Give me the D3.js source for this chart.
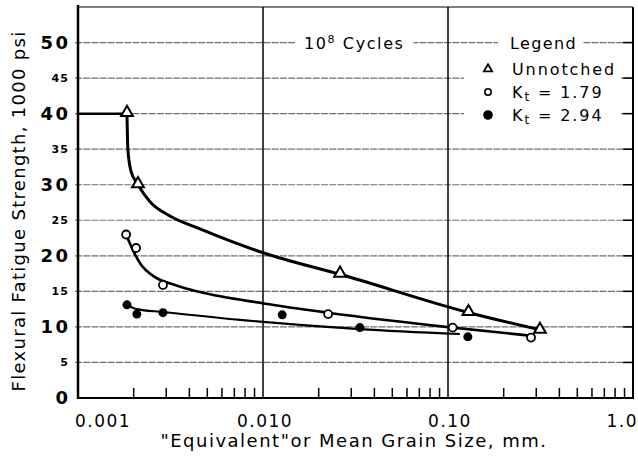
<!DOCTYPE html>
<html>
<head>
<meta charset="utf-8">
<script src="https://cdn.jsdelivr.net/npm/d3@7"></script>
<style>
  body { margin: 0; background: #fff; }
  text { font-family: "DejaVu Sans", sans-serif; fill: #000; }
</style>
</head>
<body>
<div id="chart"></div>
<script>
// grain size (mm) vs flexural fatigue strength (1000 psi)
let unnotched = [[0.00184,40],[0.00211,30],[0.0261,17.4],[0.129,12.0],[0.314,9.5]];
let kt179 = [[0.00182,23.0],[0.00206,21.1],[0.00288,15.9],[0.0225,11.8],[0.106,9.9],[0.281,8.5]];
let kt294 = [[0.00184,13.1],[0.00208,11.8],[0.00288,12.0],[0.0127,11.7],[0.0334,9.9],[0.128,8.6]];

// hand drawn fit curves
let unnotchedCap = [[0.001,40],[0.00184,40]];
let unnotchedFit = [[0.00184,40],[0.00186,35],[0.00193,32],[0.00211,30],[0.00245,27.6],[0.00314,25.6],
  [0.00456,23.8],[0.0101,20.4],[0.0261,17.4],[0.130,12.0],[0.314,9.6]];
let kt179Fit = [[0.00182,23.0],[0.00198,20.8],[0.00216,19.0],[0.00261,17.0],[0.00334,15.9],[0.00456,14.9],
  [0.0101,13.3],[0.0225,12.0],[0.106,9.9],[0.295,8.7]];
let kt294Fit = [[0.00184,13.1],[0.00208,12.5],[0.00288,12.1],[0.00751,11.0],[0.0334,9.7],[0.116,9.0]];

let xTicks = [0.001, 0.01, 0.1, 1];
let xTickLabels = ["0.001", "0.010", "0.10", "1.0"];
let yTicks = [0,5,10,15,20,25,30,35,40,45,50];

let width = 638, height = 459;
let margin = {top: 7, right: 5, bottom: 61, left: 78};

let svg = d3.select("#chart").append("svg")
  .attr("width", width)
  .attr("height", height);

let x = d3.scaleLog().domain([0.001, 1]).range([margin.left, width - margin.right]);
let y = d3.scaleLinear().domain([0, 55]).range([height - margin.bottom, margin.top]);

const x0 = x.range()[0], x1 = x.range()[1];
const y0 = y.range()[0], y1 = y.range()[1];

// horizontal grid
svg.append("g").selectAll("line")
  .data(yTicks.filter(d => d > 0))
  .enter().append("line")
  .attr("x1", x0 - 3).attr("x2", x1)
  .attr("y1", d => y(d)).attr("y2", d => y(d))
  .attr("stroke", "#707070")
  .attr("stroke-width", 1.2)
  .attr("stroke-dasharray", "7,1.2");

// vertical decade lines
svg.append("g").selectAll("line")
  .data(xTicks.slice(1, 3))
  .enter().append("line")
  .attr("x1", d => x(d)).attr("x2", d => x(d))
  .attr("y1", y1).attr("y2", y0)
  .attr("stroke", "#000")
  .attr("stroke-width", 1.5);

// minor ticks on bottom
let minor = [];
[0.001, 0.01, 0.1].forEach(d => { for (let k = 2; k <= 9; k++) minor.push(d * k); });
svg.append("g").selectAll("line")
  .data(minor)
  .enter().append("line")
  .attr("x1", d => x(d)).attr("x2", d => x(d))
  .attr("y1", y0).attr("y2", y0 - 10)
  .attr("stroke", "#000")
  .attr("stroke-width", 1.5);

// right side ticks
svg.append("g").selectAll("line")
  .data(yTicks.filter(d => d > 0))
  .enter().append("line")
  .attr("x1", x1 - 10).attr("x2", x1)
  .attr("y1", d => y(d)).attr("y2", d => y(d))
  .attr("stroke", "#000")
  .attr("stroke-width", 1.5);

// legend background + labels
let legendG = svg.append("g");
legendG.append("rect")
  .attr("x", 464).attr("y", 57)
  .attr("width", 157).attr("height", 72)
  .attr("fill", "#fff");

function boxedText(g, tx, ty, size, ls) {
  let t = g.append("text")
    .attr("x", tx).attr("y", ty)
    .attr("font-size", size)
    .style("letter-spacing", ls + "px");
  return t;
}

let cyc = boxedText(legendG, 304, 49, 16, 1.6);
cyc.append("tspan").text("10");
cyc.append("tspan").attr("font-size", 11).attr("dy", -6).text("8");
cyc.append("tspan").attr("dy", 6).text(" Cycles");

let leg = boxedText(legendG, 510, 49, 16, 1.4).text("Legend");

[[cyc, 9, 9], [leg, 12, 6]].forEach(([t, pl, pr]) => {
  let b = t.node().getBBox();
  legendG.insert("rect", "text")
    .attr("x", b.x - pl).attr("y", b.y)
    .attr("width", b.width + pl + pr).attr("height", b.height)
    .attr("fill", "#fff");
});

let legItems = [
  {sym: "tri", label: "Unnotched", sub: null, ty: 75},
  {sym: "open", label: "K", sub: "t", rest: " = 1.79", ty: 98},
  {sym: "fill", label: "K", sub: "t", rest: " = 2.94", ty: 121}
];
legItems.forEach(it => {
  let t = boxedText(legendG, 512, it.ty, 16, 1.9);
  t.append("tspan").text(it.label);
  if (it.sub) {
    t.append("tspan").attr("font-size", 12).attr("dy", 3).text(it.sub);
    t.append("tspan").attr("dy", -3).text(it.rest);
  }
  let cy = it.ty - 6;
  if (it.sym === "tri") {
    legendG.append("path")
      .attr("d", d3.symbol(d3.symbolTriangle, 30)())
      .attr("transform", `translate(488,${cy})`)
      .attr("fill", "#fff").attr("stroke", "#000").attr("stroke-width", 1.8);
  } else {
    legendG.append("circle")
      .attr("cx", 488).attr("cy", cy).attr("r", it.sym === "open" ? 3.2 : 4)
      .attr("fill", it.sym === "open" ? "#fff" : "#000")
      .attr("stroke", "#000").attr("stroke-width", 1.6);
  }
});

// frame
svg.append("line").attr("x1", x0).attr("x2", x0).attr("y1", y1 - 2).attr("y2", y0 + 1)
  .attr("stroke", "#000").attr("stroke-width", 2.5);
svg.append("line").attr("x1", x0).attr("x2", x1).attr("y1", y0).attr("y2", y0)
  .attr("stroke", "#000").attr("stroke-width", 2);
svg.append("line").attr("x1", x1).attr("x2", x1).attr("y1", y1).attr("y2", y0 + 1)
  .attr("stroke", "#000").attr("stroke-width", 2);
svg.append("line").attr("x1", x0).attr("x2", x1).attr("y1", y1).attr("y2", y1)
  .attr("stroke", "#000").attr("stroke-width", 1.2);

// fit curves
let curve = d3.line()
  .x(d => x(d[0])).y(d => y(d[1]))
  .curve(d3.curveMonotoneX);
let straight = d3.line().x(d => x(d[0])).y(d => y(d[1]));

svg.append("path").attr("d", straight(unnotchedCap))
  .attr("fill", "none").attr("stroke", "#000").attr("stroke-width", 2.5);
svg.append("path").attr("d", curve(unnotchedFit))
  .attr("fill", "none").attr("stroke", "#000").attr("stroke-width", 3);
svg.append("path").attr("d", curve(kt179Fit))
  .attr("fill", "none").attr("stroke", "#000").attr("stroke-width", 2.6);
svg.append("path").attr("d", curve(kt294Fit))
  .attr("fill", "none").attr("stroke", "#000").attr("stroke-width", 2.2);

// data points
svg.append("g").selectAll("path")
  .data(unnotched)
  .enter().append("path")
  .attr("d", d3.symbol(d3.symbolTriangle, 60)())
  .attr("transform", d => `translate(${x(d[0])},${y(d[1]) - 1})`)
  .attr("fill", "#fff").attr("stroke", "#000").attr("stroke-width", 2);

svg.append("g").selectAll("circle")
  .data(kt179)
  .enter().append("circle")
  .attr("cx", d => x(d[0])).attr("cy", d => y(d[1]))
  .attr("r", 4)
  .attr("fill", "#fff").attr("stroke", "#000").attr("stroke-width", 1.8);

svg.append("g").selectAll("circle")
  .data(kt294)
  .enter().append("circle")
  .attr("cx", d => x(d[0])).attr("cy", d => y(d[1]))
  .attr("r", 4.5)
  .attr("fill", "#000");

// y tick labels: multiples of 10 big, fives small
svg.append("g").selectAll("text")
  .data(yTicks)
  .enter().append("text")
  .attr("x", d => d % 10 === 0 ? 68 + 2.5 : 68 + 1.2)
  .attr("y", d => y(d))
  .attr("dy", "0.36em")
  .attr("text-anchor", "end")
  .attr("font-size", d => d % 10 === 0 ? 18 : 11)
  .attr("font-weight", "bold")
  .style("letter-spacing", d => d % 10 === 0 ? "2.5px" : "1.2px")
  .text(d => d);

// x tick labels
svg.append("g").selectAll("text")
  .data(xTicks)
  .enter().append("text")
  .attr("x", (d, i) => i === 0 ? x(d) - 3 : i === xTicks.length - 1 ? x(d) + 5 : x(d) + 2)
  .attr("y", 427)
  .attr("text-anchor", (d, i) => i === 0 ? "start" : i === xTicks.length - 1 ? "end" : "middle")
  .attr("font-size", 17)
  .style("letter-spacing", "1.5px")
  .text((d, i) => xTickLabels[i]);

// axis titles
svg.append("text")
  .attr("x", 354).attr("y", 447)
  .attr("text-anchor", "middle")
  .attr("font-size", 18)
  .style("letter-spacing", "1.5px")
  .text("\"Equivalent\"or Mean Grain Size, mm.");

svg.append("text")
  .attr("transform", "translate(25,211) rotate(-90)")
  .attr("text-anchor", "middle")
  .attr("font-size", 18)
  .style("letter-spacing", "1.3px")
  .text("Flexural Fatigue Strength, 1000 psi");
</script>
</body>
</html>
